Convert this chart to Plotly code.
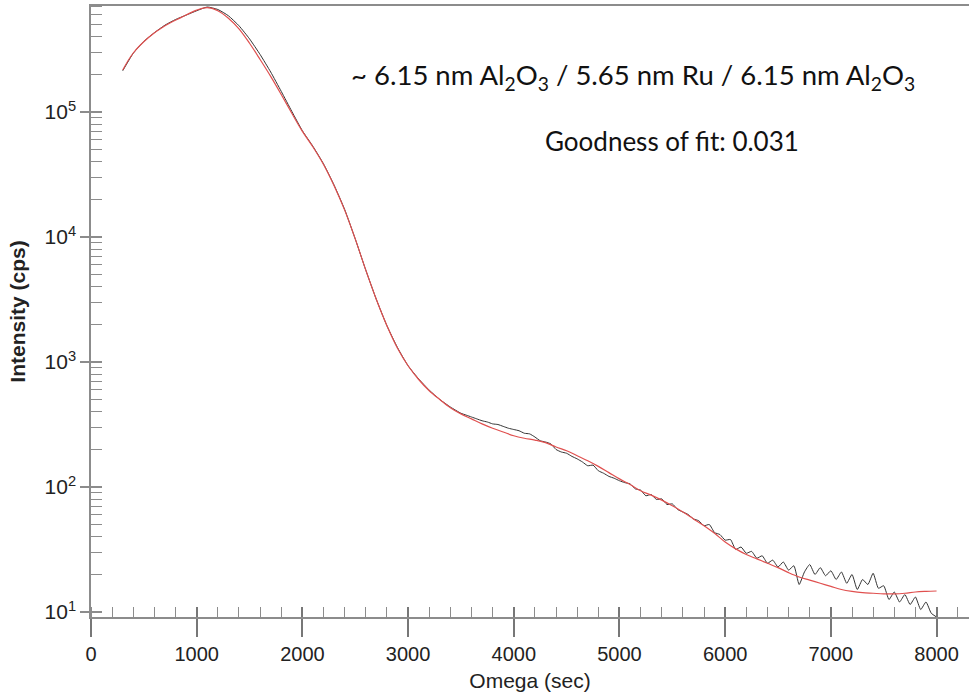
import plotly.graph_objects as go

# ---------------- data (intensity as log10(cps)) ----------------
meas_omega = [300, 400, 500, 600, 700, 800, 900, 1000, 1100, 1200, 1300, 1400, 1500, 1600,
              1700, 1800, 1900, 2000, 2100, 2200, 2300, 2400, 2500, 2600, 2700, 2800, 2900,
              3000, 3100, 3200, 3300, 3400,
              3500, 3550, 3600, 3650, 3700, 3750, 3800, 3850, 3900, 3950, 4000, 4050, 4100,
              4150, 4200, 4250, 4300, 4350, 4400, 4450, 4500, 4550, 4600, 4650, 4700, 4750,
              4800, 4850, 4900, 4950, 5000, 5050, 5100, 5150, 5200, 5250, 5300, 5350, 5400,
              5450, 5500, 5550, 5600, 5650, 5700, 5750, 5800, 5850, 5900, 5950, 6000, 6050,
              6100, 6150, 6200, 6250, 6300, 6350, 6400, 6450, 6500, 6550, 6600, 6650, 6700,
              6750, 6800, 6850, 6900, 6950, 7000, 7050, 7100, 7150, 7200, 7250, 7300, 7350,
              7400, 7450, 7500, 7550, 7600, 7650, 7700, 7750, 7800, 7850, 7900, 7950, 8000]
meas_log_cps = [5.33, 5.47, 5.565, 5.635, 5.695, 5.74, 5.775, 5.81, 5.84, 5.82, 5.77, 5.69,
                5.585, 5.46, 5.32, 5.165, 5.005, 4.85, 4.725, 4.585, 4.415, 4.22, 3.985, 3.735,
                3.50, 3.29, 3.115, 2.97, 2.865, 2.775, 2.70, 2.64,
                2.59, 2.575, 2.56, 2.545, 2.53, 2.52, 2.505, 2.50, 2.485, 2.47, 2.46, 2.45,
                2.43, 2.425, 2.40, 2.37, 2.36, 2.345, 2.30, 2.28, 2.27, 2.245, 2.225, 2.20,
                2.17, 2.175, 2.13, 2.11, 2.085, 2.07, 2.05, 2.035, 2.025, 1.985, 1.975, 1.93,
                1.94, 1.90, 1.905, 1.86, 1.865, 1.82, 1.80, 1.78, 1.745, 1.73, 1.69, 1.70,
                1.635, 1.62, 1.575, 1.58, 1.50, 1.52, 1.47, 1.485, 1.43, 1.45, 1.39, 1.415,
                1.36, 1.40, 1.335, 1.37, 1.22, 1.32, 1.38, 1.30, 1.355, 1.29, 1.33, 1.26,
                1.32, 1.23, 1.30, 1.18, 1.26, 1.22, 1.31, 1.19, 1.21, 1.10, 1.16, 1.08, 1.14,
                1.06, 1.12, 1.02, 1.08, 0.99, 0.96]

fit_omega = [300, 400, 550, 700, 850, 1000, 1100, 1200, 1300, 1400, 1500, 1600, 1700, 1800,
             1900, 2000, 2100, 2200, 2300, 2400, 2500, 2600, 2700, 2800, 2900, 3000, 3100,
             3200, 3300, 3400, 3500, 3600, 3700, 3800, 3900, 4000, 4100, 4200, 4300, 4400,
             4500, 4600, 4700, 4800, 4900, 5000, 5100, 5200, 5300, 5400, 5500, 5600, 5700,
             5800, 5900, 6000, 6100, 6200, 6300, 6400, 6500, 6600, 6700, 6800, 6900, 7000,
             7100, 7200, 7300, 7400, 7500, 7600, 7700, 7800, 7900, 8000]
fit_log_cps = [5.336, 5.472, 5.60, 5.69, 5.755, 5.815, 5.835, 5.81, 5.75, 5.665, 5.55, 5.42,
               5.285, 5.14, 4.99, 4.845, 4.72, 4.58, 4.41, 4.215, 3.985, 3.735, 3.50, 3.29,
               3.11, 2.97, 2.86, 2.77, 2.70, 2.635, 2.585, 2.545, 2.505, 2.47, 2.44, 2.41,
               2.39, 2.375, 2.355, 2.32, 2.29, 2.25, 2.21, 2.165, 2.115, 2.065, 2.02, 1.97,
               1.935, 1.895, 1.85, 1.80, 1.745, 1.69, 1.63, 1.56, 1.505, 1.46, 1.425, 1.39,
               1.355, 1.315, 1.28, 1.255, 1.23, 1.205, 1.18, 1.165, 1.155, 1.15, 1.145, 1.145,
               1.15, 1.16, 1.165, 1.168]

y_tick_vals = [10, 100, 1000, 10000, 100000]
y_tick_text = ["10<sup>1</sup>", "10<sup>2</sup>", "10<sup>3</sup>", "10<sup>4</sup>",
               "10<sup>5</sup>"]
x_title = "Omega (sec)"
y_title = "<b>Intensity (cps)</b>"
note_line1 = "~ 6.15 nm Al<sub>2</sub>O<sub>3</sub> / 5.65 nm Ru / 6.15 nm Al<sub>2</sub>O<sub>3</sub>"
note_line2 = "Goodness of fit: 0.031"

meas_cps = [10 ** v for v in meas_log_cps]
fit_cps = [10 ** v for v in fit_log_cps]

X_RANGE = [0, 8307]
Y_RANGE = [0.96, 5.848]
AX = "#8c8c8c"
TXT = "#222222"

fig = go.Figure()
fig.add_trace(go.Scatter(x=meas_omega, y=meas_cps, mode="lines",
                         line=dict(color="#333333", width=1, shape="spline", smoothing=0.5),
                         showlegend=False, xaxis="x", yaxis="y"))
fig.add_trace(go.Scatter(x=fit_omega, y=fit_cps, mode="lines",
                         line=dict(color="#e0504f", width=1.2, shape="spline"),
                         showlegend=False, xaxis="x2", yaxis="y2"))

fig.update_layout(
    width=969, height=694,
    margin=dict(l=91, r=0, t=6, b=77),
    paper_bgcolor="white", plot_bgcolor="white",
    font=dict(family="Liberation Sans, Arial, sans-serif", color=TXT, size=21),
    xaxis=dict(range=X_RANGE, showgrid=False, zeroline=False,
               showline=True, linecolor=AX, linewidth=1.5, mirror=True,
               ticks="outside", ticklen=18, tickcolor="#777777", tickwidth=1.5,
               dtick=1000, tick0=0,
               tickfont=dict(size=20, color=TXT),
               minor=dict(ticks="inside", ticklen=10, dtick=200, tick0=0,
                          tickcolor=AX, tickwidth=1.2, showgrid=False),
               title=dict(text=x_title, font=dict(size=21, color=TXT), standoff=10)),
    yaxis=dict(type="log", range=Y_RANGE, showgrid=False, zeroline=False,
               showline=True, linecolor=AX, linewidth=1.5,
               ticks="outside", ticklen=9, tickcolor=AX, tickwidth=1.5,
               tickvals=y_tick_vals, ticktext=y_tick_text,
               tickfont=dict(size=21, color=TXT),
               minor=dict(ticks="inside", ticklen=11, dtick="D1",
                          tickcolor=AX, tickwidth=1.2, showgrid=False),
               title=dict(text=y_title, font=dict(size=21, color=TXT), standoff=13)),
    xaxis2=dict(range=X_RANGE, overlaying="x", anchor="y2", side="bottom",
                showgrid=False, zeroline=False, showline=False,
                ticks="inside", ticklen=10, tickcolor="#777777", tickwidth=1.5,
                dtick=1000, tick0=0, showticklabels=False),
    yaxis2=dict(type="log", range=Y_RANGE, overlaying="y", anchor="x2", side="left",
                showgrid=False, zeroline=False, showline=False,
                ticks="inside", ticklen=11, tickcolor=AX, tickwidth=1.5,
                tickvals=y_tick_vals, showticklabels=False),
    annotations=[
        dict(text=note_line1, xref="paper", yref="paper", x=0.617, y=0.885,
             xanchor="center", yanchor="middle", showarrow=False,
             font=dict(family="Lato, sans-serif", size=27.5, color="#111111")),
        dict(text=note_line2, xref="paper", yref="paper", x=0.662, y=0.779,
             xanchor="center", yanchor="middle", showarrow=False,
             font=dict(family="Lato, sans-serif", size=26, color="#111111")),
    ],
)

fig.write_html("out.html")
